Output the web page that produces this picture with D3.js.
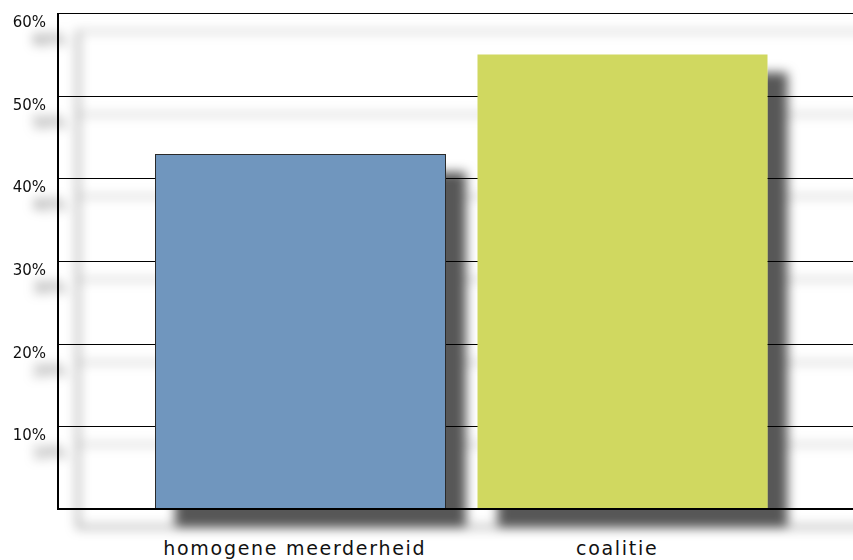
<!DOCTYPE html>
<html>
<head>
<meta charset="utf-8">
<script src="https://cdn.jsdelivr.net/npm/d3@7"></script>
<style>
  html, body { margin: 0; padding: 0; background: #fff; }
  svg { display: block; }
  text { font-family: "DejaVu Sans", sans-serif; fill: #111; }
</style>
</head>
<body>
<svg id="chart" width="853" height="560"></svg>
<script>
// Share of outcomes per government type
const categories = ["homogene meerderheid", "coalitie"];
const values = [43, 55];
const barColors = ["#7096be", "#d0d860"];
const yTicks = [10, 20, 30, 40, 50, 60];
const yTickLabels = ["10%", "20%", "30%", "40%", "50%", "60%"];

const W = 853, H = 560;
const plotLeft = 58, plotRight = 864, plotTop = 13, plotBottom = 509;

const svg = d3.select("#chart");

const defs = svg.append("defs");
const f = defs.append("filter")
  .attr("id", "shadow")
  .attr("filterUnits", "userSpaceOnUse")
  .attr("x", -50).attr("y", -50)
  .attr("width", W + 100).attr("height", H + 100);
f.append("feDropShadow")
  .attr("dx", 20).attr("dy", 18)
  .attr("stdDeviation", 5.5)
  .attr("flood-color", "#000")
  .attr("flood-opacity", 0.66);

const x = d3.scaleBand()
  .domain(categories)
  .range([plotLeft, plotRight])
  .paddingInner(0.1)
  .paddingOuter(0.3);

const y = d3.scaleLinear().domain([0, 60]).range([plotBottom, plotTop]);

const g = svg.append("g").attr("filter", "url(#shadow)");

// gridlines
g.append("g")
  .selectAll("line")
  .data(yTicks)
  .join("line")
  .attr("x1", plotLeft).attr("x2", W)
  .attr("y1", d => Math.round(y(d)) + 0.5)
  .attr("y2", d => Math.round(y(d)) + 0.5)
  .attr("stroke", "#000")
  .attr("stroke-width", 1);

// y tick labels, sitting just under each gridline
g.append("g")
  .selectAll("text")
  .data(yTicks)
  .join("text")
  .attr("x", 46)
  .attr("y", d => y(d) + 14)
  .attr("text-anchor", "end")
  .attr("font-size", 15)
  .text((d, i) => yTickLabels[i]);

// bars
g.append("g")
  .selectAll("rect")
  .data(categories)
  .join("rect")
  .attr("x", d => Math.round(x(d)) + 0.5)
  .attr("y", (d, i) => Math.round(y(values[i])) + 0.5)
  .attr("width", Math.round(x.bandwidth()))
  .attr("height", (d, i) => Math.round(plotBottom - y(values[i])))
  .attr("fill", (d, i) => barColors[i])
  .attr("stroke", (d, i) => i === 0 ? "#2a2a2a" : "none")
  .attr("stroke-width", 1);

// axis lines
g.append("line")
  .attr("x1", plotLeft).attr("x2", plotLeft)
  .attr("y1", plotTop).attr("y2", plotBottom + 1)
  .attr("stroke", "#000").attr("stroke-width", 2);
g.append("line")
  .attr("x1", plotLeft - 1).attr("x2", W)
  .attr("y1", plotBottom).attr("y2", plotBottom)
  .attr("stroke", "#000").attr("stroke-width", 2);

// category labels
svg.append("g")
  .selectAll("text")
  .data(categories)
  .join("text")
  .attr("x", d => x(d) + x.bandwidth() / 2 - 5)
  .attr("y", 555)
  .attr("text-anchor", "middle")
  .attr("font-size", 19)
  .attr("letter-spacing", 1.7)
  .text(d => d);
</script>
</body>
</html>
